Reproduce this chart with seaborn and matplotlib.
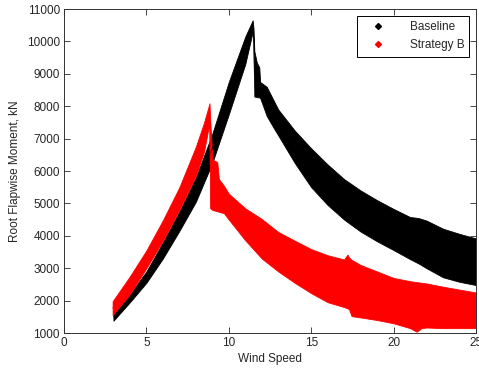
import pandas as pd
import matplotlib.pyplot as plt
from matplotlib.lines import Line2D
import seaborn as sns

# --- Envelope of the scatter bands (wind speed vs kN) ---
baseline_ws = [3, 4, 5, 6, 7, 8, 9, 10, 11, 11.45, 11.5, 11.55, 11.7, 11.85, 11.9,
               12.3, 12.7, 13, 14, 15, 16, 17, 18, 19, 20, 21, 21.5, 22, 23, 24, 25]
baseline_upper = [1600, 2200, 2900, 3800, 4750, 5800, 7150, 8750, 10150, 10650, 10400, 9700,
                  9350, 9200, 8750, 8600, 8200, 7900, 7250, 6700, 6200, 5750, 5400, 5100,
                  4830, 4580, 4550, 4470, 4220, 4060, 3920]
baseline_lower = [1380, 1950, 2550, 3300, 4150, 5050, 6250, 7750, 9300, 10300, 10000, 8300,
                  8280, 8270, 8260, 7700, 7350, 7100, 6250, 5500, 4950, 4500, 4130, 3830,
                  3560, 3280, 3150, 3000, 2720, 2580, 2480]

strategy_ws = [2.95, 4, 5, 6, 7, 8, 8.5, 8.83, 8.87, 9.0, 9.05, 9.3, 9.4, 9.7, 10, 11, 12, 13,
               14, 15, 16, 17, 17.2, 17.3, 17.45, 18, 19, 20, 21, 21.4, 21.7, 22, 23, 24, 25]
strategy_upper = [1980, 2750, 3550, 4480, 5500, 6750, 7500, 8090, 7600, 6400, 6340, 6280,
                  5750, 5550, 5300, 4850, 4520, 4120, 3850, 3590, 3400, 3270, 3420, 3330,
                  3260, 3100, 2900, 2700, 2600, 2570, 2550, 2530, 2430, 2340, 2250]
strategy_lower = [1550, 2200, 3000, 3850, 4800, 5850, 6600, 7500, 4850, 4800, 4790, 4760,
                  4740, 4700, 4500, 3860, 3300, 2900, 2550, 2230, 1950, 1800, 1760, 1730,
                  1520, 1480, 1400, 1300, 1150, 1040, 1150, 1170, 1150, 1150, 1150]

series_names = ['Baseline', 'Strategy B']
series_colors = ['black', 'red']

x_ticks = [0, 5, 10, 15, 20, 25]
y_ticks = list(range(1000, 11001, 1000))

# --- Long-form table: each wind speed carries its upper and lower envelope value ---
frames = []
for name, ws, up, lo in [('Baseline', baseline_ws, baseline_upper, baseline_lower),
                         ('Strategy B', strategy_ws, strategy_upper, strategy_lower)]:
    frames.append(pd.DataFrame({'ws': ws, 'moment': up, 'case': name}))
    frames.append(pd.DataFrame({'ws': ws, 'moment': lo, 'case': name}))
data = pd.concat(frames, ignore_index=True)

sns.set_style('ticks')
plt.rcParams['font.family'] = ['Liberation Sans', 'DejaVu Sans']

fig = plt.figure(figsize=(4.79, 3.71), dpi=100)
ax = fig.add_axes([0.1336, 0.1024, 0.8601, 0.8733])

# band between the envelopes (min..max at each wind speed)
sns.lineplot(data=data, x='ws', y='moment', hue='case', hue_order=series_names,
             palette=series_colors, estimator='mean',
             errorbar=lambda v: (v.min(), v.max()),
             err_kws={'alpha': 1.0, 'linewidth': 0.6},
             linewidth=0.5, legend=False, ax=ax)

ax.set_xlim(0, 25)
ax.set_ylim(1000, 11000)
ax.set_xticks(x_ticks)
ax.set_yticks(y_ticks)
ax.tick_params(direction='in', length=4, width=0.6, labelsize=8.5, colors='#262626',
               top=True, right=True, labeltop=False, labelright=False, pad=3)
for side in ax.spines.values():
    side.set_linewidth(0.7)
    side.set_color('#333333')

ax.set_xlabel('Wind Speed', fontsize=8.5, labelpad=3)
ax.set_ylabel('Root Flapwise Moment, kN', fontsize=8.5, labelpad=4)

handles = [Line2D([], [], linestyle='none', marker='D', markersize=3, color=c) for c in series_colors]
leg = ax.legend(handles, series_names, loc='upper right', fontsize=8.5, frameon=True,
                fancybox=False, framealpha=1, edgecolor='black', borderaxespad=0.55,
                handletextpad=1.4, borderpad=0.45, labelspacing=0.55, handlelength=2.6)
leg.get_frame().set_linewidth(0.7)

plt.savefig('out.png', dpi=100)
